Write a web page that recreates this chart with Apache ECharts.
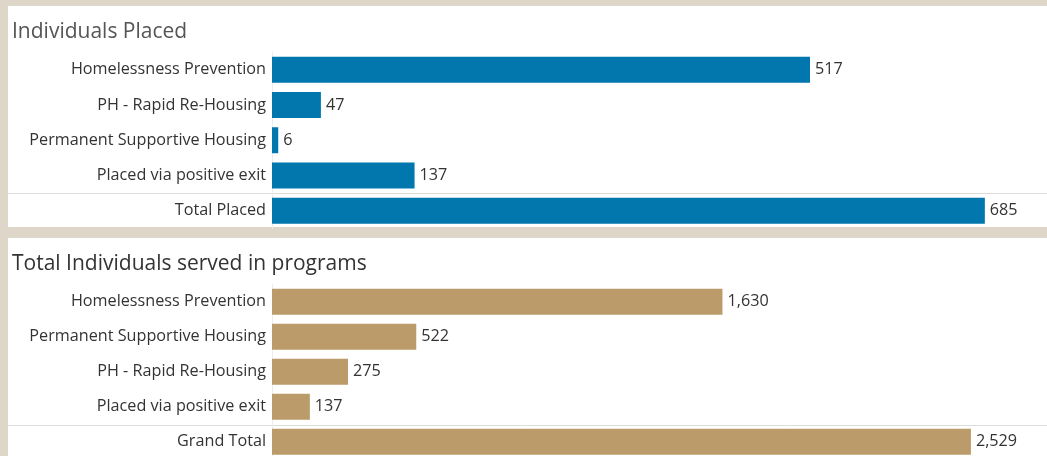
<!DOCTYPE html>
<html><head><meta charset="utf-8">
<script src="https://cdn.jsdelivr.net/npm/echarts@6/dist/echarts.min.js"></script>
<style>html,body{margin:0;padding:0;background:#ddd6c9;overflow:hidden;}#c{width:1047px;height:480px;}</style>
</head><body><div id="c"></div>
<script>
const title1 = 'Individuals Placed';
const cats1 = ['Homelessness Prevention','PH - Rapid Re-Housing','Permanent Supportive Housing','Placed via positive exit','Total Placed'];
const vals1 = [517,47,6,137,685];
const title2 = 'Total Individuals served in programs';
const cats2 = ['Homelessness Prevention','Permanent Supportive Housing','PH - Rapid Re-Housing','Placed via positive exit','Grand Total'];
const vals2 = [1630,522,275,137,2529];

const FONT = 'Open Sans';
const chart = echarts.init(document.getElementById('c'), null, {renderer:'canvas'});
const fmt = v => v.toLocaleString('en-US');
const gridLeft = 272, gridRight = 7;
function yAx(i, cats){
  return {type:'category', gridIndex:i, data:cats, inverse:true,
    axisLine:{show:true, lineStyle:{color:'#ececec'}}, axisTick:{show:false},
    axisLabel:{color:'#333', fontSize:16.2, fontFamily:FONT, margin:6}};
}
function xAx(i, max){
  return {type:'value', gridIndex:i, min:0, max:max, show:false, splitLine:{show:false}};
}
function ser(i, vals, color){
  return {type:'bar', xAxisIndex:i, yAxisIndex:i, data:vals, barWidth:26,
    itemStyle:{color:color}, silent:true,
    label:{show:true, position:'right', distance:5, color:'#333', fontSize:16.2, fontFamily:FONT,
      formatter:p=>fmt(p.value)}};
}
chart.setOption({
  animation:false,
  backgroundColor:'transparent',
  graphic:[
    {type:'rect', z:-10, shape:{x:8,y:6,width:1039,height:221}, style:{fill:'#fff'}},
    {type:'rect', z:-10, shape:{x:8,y:238,width:1039,height:250}, style:{fill:'#fff'}},
    {type:'line', z:-5, shape:{x1:8,y1:193.5,x2:1047,y2:193.5}, style:{stroke:'#dcdcdc',lineWidth:1}},
    {type:'line', z:-5, shape:{x1:8,y1:425.5,x2:1047,y2:425.5}, style:{stroke:'#dcdcdc',lineWidth:1}}
  ],
  title:[
    {text:title1, left:7, top:17, textStyle:{color:'#555', fontSize:21, fontWeight:'normal', fontFamily:FONT}},
    {text:title2, left:7, top:249, textStyle:{color:'#333', fontSize:21, fontWeight:'normal', fontFamily:FONT}}
  ],
  grid:[
    {left:gridLeft, right:gridRight, top:52, height:176.5, outerBoundsMode:'none'},
    {left:gridLeft, right:gridRight, top:284.3, height:175, outerBoundsMode:'none'}
  ],
  xAxis:[xAx(0,738), xAx(1,2779)],
  yAxis:[yAx(0,cats1), yAx(1,cats2)],
  series:[ser(0,vals1,'#0177ae'), ser(1,vals2,'#bc9b6a')]
});
</script></body></html>
